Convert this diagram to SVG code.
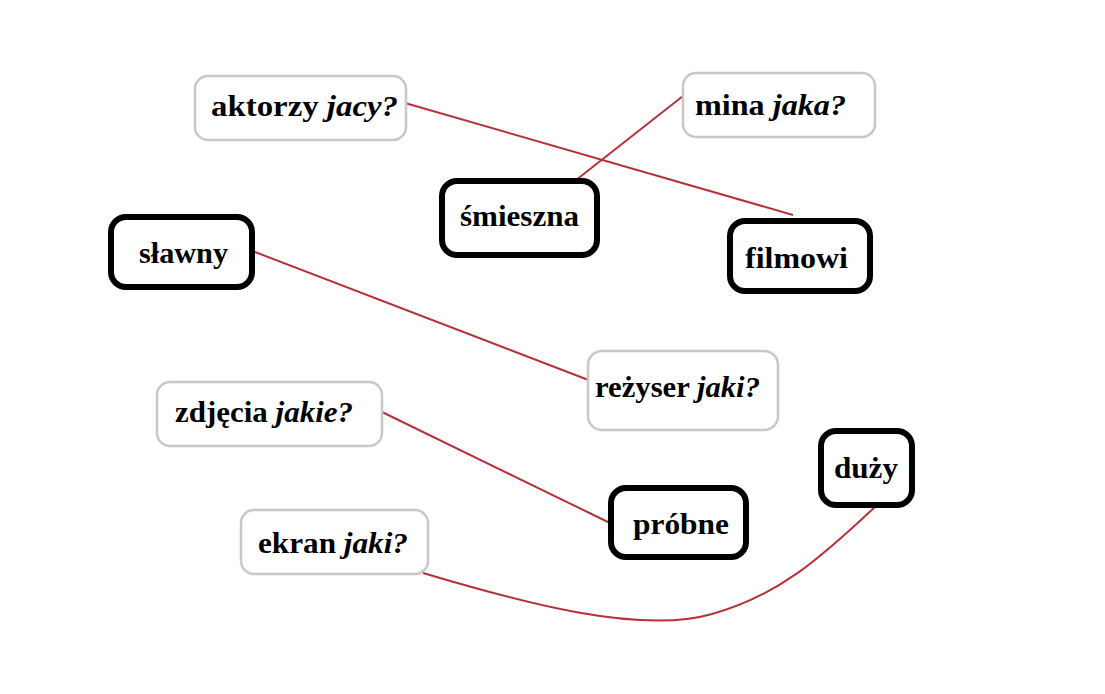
<svg xmlns="http://www.w3.org/2000/svg" width="1105" height="694" viewBox="0 0 1105 694">
<style>
.q{fill:#fff;stroke:#c8c8c8;stroke-width:2.5}
.a{fill:#fff;stroke:#000;stroke-width:6}
text{font-family:"Liberation Serif","Times New Roman",serif;font-weight:bold;font-size:29.5px;fill:#000}
.i{font-style:italic}
.c{fill:none;stroke:#b5323a;stroke-width:2}
</style>
<rect width="1105" height="694" fill="#fff"/>
<g id="connectors">
<line class="c" x1="405" y1="103" x2="793" y2="215"/>
<line class="c" x1="683" y1="96" x2="571" y2="184"/>
<line class="c" x1="255" y1="252" x2="591" y2="381"/>
<line class="c" x1="382" y1="412" x2="610" y2="523"/>
<path class="c" d="M423,573 C520,602 640,635 712,614 C785,594 830,548 875,507"/>
</g>
<g id="aktorzy"><rect class="q" x="195" y="76" width="211" height="64" rx="13"/><text x="211" y="116" textLength="187" lengthAdjust="spacingAndGlyphs">aktorzy <tspan class="i">jacy?</tspan></text></g>
<g id="mina"><rect class="q" x="683" y="73" width="192" height="64" rx="13"/><text x="695" y="115" textLength="151" lengthAdjust="spacingAndGlyphs">mina <tspan class="i">jaka?</tspan></text></g>
<g id="smieszna"><rect class="a" x="442" y="181" width="155" height="74" rx="15"/><text x="460" y="226" textLength="119" lengthAdjust="spacingAndGlyphs">śmieszna</text></g>
<g id="slawny"><rect class="a" x="111" y="217" width="141" height="70" rx="15"/><text x="139" y="263" textLength="89" lengthAdjust="spacingAndGlyphs">sławny</text></g>
<g id="filmowi"><rect class="a" x="730" y="221" width="140" height="70" rx="15"/><text x="745" y="268" textLength="103" lengthAdjust="spacingAndGlyphs">filmowi</text></g>
<g id="rezyser"><rect class="q" x="588" y="351" width="190" height="79" rx="14"/><text x="595" y="397" textLength="165" lengthAdjust="spacingAndGlyphs">reżyser <tspan class="i">jaki?</tspan></text></g>
<g id="zdjecia"><rect class="q" x="157" y="382" width="225" height="64" rx="13"/><text x="175" y="422" textLength="178" lengthAdjust="spacingAndGlyphs">zdjęcia <tspan class="i">jakie?</tspan></text></g>
<g id="probne"><rect class="a" x="611" y="488" width="135" height="69" rx="15"/><text x="633" y="534" textLength="96" lengthAdjust="spacingAndGlyphs">próbne</text></g>
<g id="ekran"><rect class="q" x="241" y="510" width="187" height="64" rx="13"/><text x="258" y="553" textLength="150" lengthAdjust="spacingAndGlyphs">ekran <tspan class="i">jaki?</tspan></text></g>
<g id="duzy"><rect class="a" x="821" y="431" width="91" height="74" rx="15"/><text x="834" y="478" textLength="64" lengthAdjust="spacingAndGlyphs">duży</text></g>
</svg>
